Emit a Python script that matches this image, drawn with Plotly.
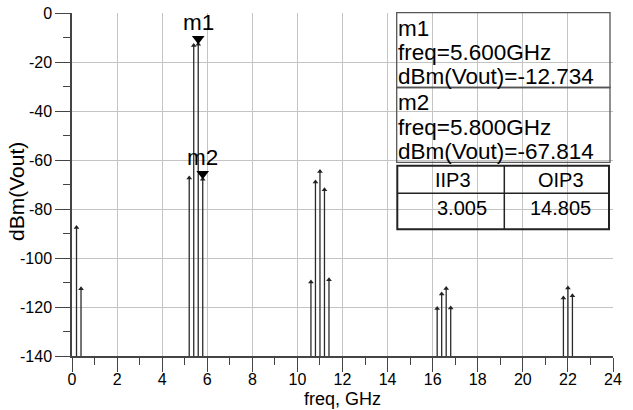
import plotly.graph_objects as go

# ---- data ----
freq_ghz = [0.2, 0.4, 5.2, 5.4, 5.6, 5.8, 10.6, 10.8, 11.0, 11.2, 11.4,
            16.2, 16.4, 16.6, 16.8, 21.8, 22.0, 22.2]
dbm_vout = [-87.5, -112.5, -67.3, -13.3, -12.734, -67.814, -109.8, -69.0, -64.7,
            -72.1, -108.9, -120.6, -114.7, -112.4, -120.4, -116.3, -112.2, -115.4]
floor_dbm = -140
marker_names = ["m1", "m2"]
marker_freqs = [5.6, 5.8]
marker_vals = [-12.734, -67.814]
table_headers = ["IIP3", "OIP3"]
table_values = [3.005, 14.805]
x_ticks = list(range(0, 25, 2))
y_ticks = list(range(-140, 1, 20))
x_title = "freq, GHz"
y_title = "dBm(Vout)"

W, H = 633, 410
ML, MR, MT, MB = 72, 20, 13, 54
PW, PH = W - ML - MR, H - MT - MB
FONT = "Arial, Liberation Sans, sans-serif"
px_per_db = PH / 140.0

def px(x):
    return (x - ML) / PW

def py(y):
    return (H - MB - y) / PH

# stems
sx, sy = [], []
for f, v in zip(freq_ghz, dbm_vout):
    sx += [f, f, None]
    sy += [floor_dbm, v, None]

fig = go.Figure()
fig.add_trace(go.Scatter(x=sx, y=sy, mode="lines",
                         line=dict(color="#2a2a2a", width=1.3),
                         hoverinfo="skip", showlegend=False))
fig.add_trace(go.Scatter(x=freq_ghz, y=dbm_vout, mode="markers",
                         marker=dict(symbol="triangle-up", size=5, color="#222222"),
                         showlegend=False))
# marker triangles (tip at the data point)
tri_size = 11
fig.add_trace(go.Scatter(x=marker_freqs,
                         y=[v + (tri_size / 2) / px_per_db for v in marker_vals],
                         mode="markers",
                         marker=dict(symbol="triangle-down", size=tri_size, color="black"),
                         showlegend=False))

annotations = []
for n, f, v in zip(marker_names, marker_freqs, marker_vals):
    annotations.append(dict(x=f, y=v, xref="x", yref="y", text=n, showarrow=False,
                            xanchor="center", yanchor="middle", yshift=22,
                            font=dict(family=FONT, size=22.5, color="black")))

# marker readout box
shapes = []
for i, (n, f, v) in enumerate(zip(marker_names, marker_freqs, marker_vals)):
    top = 12.7 + i * 74.8
    shapes.append(dict(type="rect", xref="paper", yref="paper",
                       x0=px(396.7), x1=px(610), y0=py(top), y1=py(top + 74.8),
                       line=dict(color="#555555", width=1.3)))
    texts = [n, "freq=%.3fGHz" % f, "dBm(Vout)=%.3f" % v]
    for j, t in enumerate(texts):
        annotations.append(dict(x=px(397), y=py(top + 15.5 + j * 24.2), xref="paper", yref="paper",
                                text=t, showarrow=False, xanchor="left", yanchor="middle",
                                borderpad=0,
                                font=dict(family=FONT, size=22.5, color="black")))

# IIP3/OIP3 table
shapes.append(dict(type="rect", xref="paper", yref="paper",
                   x0=px(397.3), x1=px(609), y0=py(165.7), y1=py(229.3),
                   line=dict(color="#222222", width=2)))
shapes.append(dict(type="line", xref="paper", yref="paper",
                   x0=px(397.3), x1=px(609), y0=py(193.3), y1=py(193.3),
                   line=dict(color="#222222", width=1.5)))
shapes.append(dict(type="line", xref="paper", yref="paper",
                   x0=px(504.3), x1=px(504.3), y0=py(165.7), y1=py(229.3),
                   line=dict(color="#222222", width=1.5)))
hdr_x = [453, 561]
val_x = [462, 560]
for hx, vx, h, val in zip(hdr_x, val_x, table_headers, table_values):
    annotations.append(dict(x=px(hx), y=py(180), xref="paper", yref="paper", text=h,
                            showarrow=False, xanchor="center", yanchor="middle",
                            font=dict(family=FONT, size=20, color="black")))
    annotations.append(dict(x=px(vx), y=py(208.5), xref="paper", yref="paper", text="%.3f" % val,
                            showarrow=False, xanchor="center", yanchor="middle",
                            font=dict(family=FONT, size=20, color="black")))

# axis titles
annotations.append(dict(x=0.5, y=py(398.5), xref="paper", yref="paper", text=x_title,
                        showarrow=False, xanchor="center", yanchor="middle", borderpad=0,
                        font=dict(family=FONT, size=18, color="black")))
annotations.append(dict(x=px(16), y=py(192), xref="paper", yref="paper", text=y_title,
                        showarrow=False, xanchor="center", yanchor="middle", textangle=-90,
                        font=dict(family=FONT, size=21, color="black")))

grid_c = "#c4c4c4"
axis_c = "#444444"
fig.update_layout(
    width=W, height=H, autosize=False,
    margin=dict(l=ML, r=MR, t=MT, b=MB),
    plot_bgcolor="white", paper_bgcolor="white",
    shapes=shapes, annotations=annotations,
    font=dict(family=FONT, size=16, color="black"),
    xaxis=dict(range=[0, 24], tickvals=x_ticks, ticktext=[str(t) for t in x_ticks],
               automargin=False,
               showgrid=True, gridcolor=grid_c, gridwidth=1,
               zeroline=False, showline=True, linecolor=axis_c, linewidth=1.5,
               ticks="outside", ticklen=14, tickcolor=axis_c, tickwidth=1.3,
               ticklabelstandoff=-6,
               minor=dict(dtick=1, ticks="outside", ticklen=7, tickcolor=axis_c,
                          tickwidth=1.3, showgrid=False),
               tickfont=dict(family=FONT, size=16, color="black")),
    yaxis=dict(range=[-140, 0], tickvals=y_ticks, ticktext=[str(t) for t in y_ticks],
               automargin=False,
               showgrid=True, gridcolor=grid_c, gridwidth=1,
               zeroline=False, showline=True, linecolor=axis_c, linewidth=1.5,
               ticks="outside", ticklen=15, tickcolor=axis_c, tickwidth=1.3,
               minor=dict(dtick=10, ticks="outside", ticklen=7, tickcolor=axis_c,
                          tickwidth=1.3, showgrid=False),
               tickfont=dict(family=FONT, size=16, color="black")),
)

fig.write_html("out.html")
